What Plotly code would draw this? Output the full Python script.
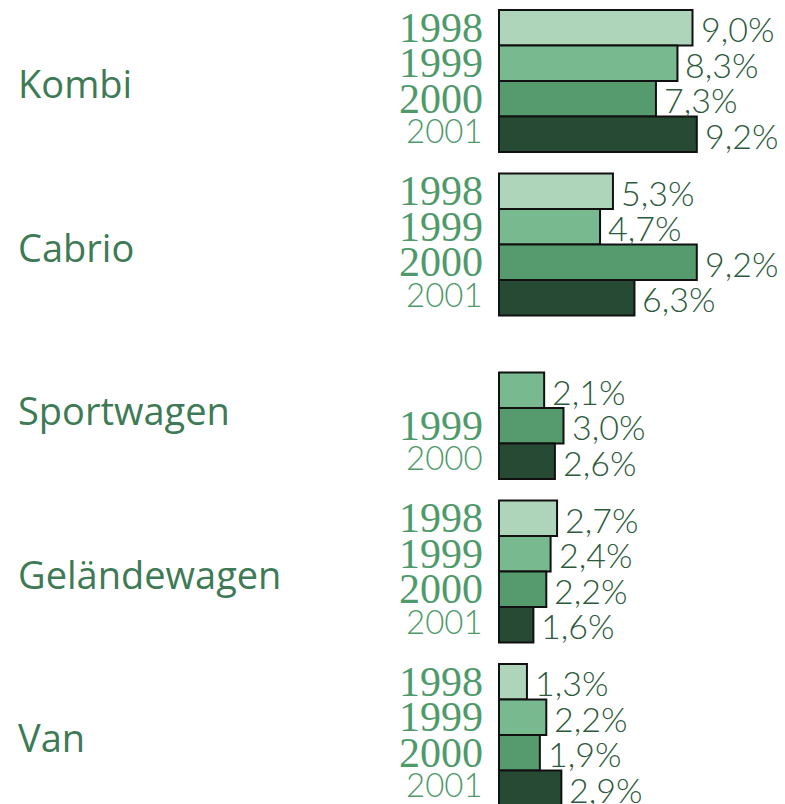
import plotly.graph_objects as go

# ---------------- data ----------------
categories = ["Kombi", "Cabrio", "Sportwagen", "Geländewagen", "Van"]
years = ["1998", "1999", "2000", "2001"]

share_1998 = [9.0, 5.3, None, 2.7, 1.3]
share_1999 = [8.3, 4.7, 2.1, 2.4, 2.2]
share_2000 = [7.3, 9.2, 3.0, 2.2, 1.9]
share_2001 = [9.2, 6.3, 2.6, 1.6, 2.9]

# tick labels shown to the left of each bar slot (as printed in the original)
year_labels_kombi = ["1998", "1999", "2000", "2001"]
year_labels_cabrio = ["1998", "1999", "2000", "2001"]
year_labels_sportwagen = ["", "", "1999", "2000"]
year_labels_gelaende = ["1998", "1999", "2000", "2001"]
year_labels_van = ["1998", "1999", "2000", "2001"]

# ---------------- styling ----------------
bar_colors = ["#aed5ba", "#78b98f", "#559b6d", "#264a33"]
label_green = "#4f9a6b"
cat_green = "#3d7a55"
pct_green = "#2d5a3c"

# the page body has an 8px margin, so the figure is drawn 8px in from the corner
OFF = 8
W, H = 785 - OFF, 804 - OFF
SLOT_PX = 35.5
GROUP_PITCH = 163.5 / SLOT_PX          # in slot units
TOP_PX = 10 - OFF
ZERO_PX = 499 - OFF
PX_PER_PCT = 21.5

y_top = -0.5 - TOP_PX / SLOT_PX
y_bottom = y_top + H / SLOT_PX
x_left = -ZERO_PX / PX_PER_PCT
x_right = (W - ZERO_PX) / PX_PER_PCT

series = [share_1998, share_1999, share_2000, share_2001]
year_label_rows = [year_labels_kombi, year_labels_cabrio, year_labels_sportwagen,
                   year_labels_gelaende, year_labels_van]


def ypos(ci, k):
    return ci * GROUP_PITCH + k


fig = go.Figure()
annotations = []

for k, (yr, vals) in enumerate(zip(years, series)):
    xs, ys = [], []
    for ci, v in enumerate(vals):
        if v is None:
            continue
        xs.append(v)
        ys.append(ypos(ci, k))
        annotations.append(dict(
            x=v, y=ypos(ci, k), xref="x", yref="y",
            text=f"{v:.1f}%".replace(".", ","),
            showarrow=False, xanchor="left", yanchor="middle",
            xshift=6, yshift=-1,
            font=dict(family="Lato", size=34, color=pct_green, weight=300),
        ))
    fig.add_trace(go.Bar(
        x=xs, y=ys, orientation="h", width=1.0, name=yr,
        marker=dict(color=bar_colors[k], line=dict(color="#111111", width=2)),
        showlegend=False, hoverinfo="skip",
    ))

# year labels to the left of bars
for ci, row in enumerate(year_label_rows):
    for k, lab in enumerate(row):
        if not lab:
            continue
        if k < 3:
            font = dict(family="Liberation Serif", size=42, color=label_green)
            ys = 0
        else:
            font = dict(family="Lato", size=33, color=label_green, weight=300)
            ys = 4
        annotations.append(dict(
            x=0, y=ypos(ci, k), xref="x", yref="y", text=lab,
            showarrow=False, xanchor="right", yanchor="middle",
            xshift=-14, yshift=ys, font=font,
        ))

# category labels
for ci, cat in enumerate(categories):
    annotations.append(dict(
        x=(16 - OFF) / W, y=ypos(ci, 1.5), xref="paper", yref="y", text=cat,
        showarrow=False, xanchor="left", yanchor="middle", yshift=-2,
        font=dict(family="Open Sans", size=38, color=cat_green),
    ))

fig.update_layout(
    width=W, height=H,
    margin=dict(l=0, r=0, t=0, b=0),
    paper_bgcolor="white", plot_bgcolor="white",
    barmode="overlay",
    xaxis=dict(range=[x_left, x_right], visible=False, fixedrange=True),
    yaxis=dict(range=[y_bottom, y_top], visible=False, fixedrange=True),
    annotations=annotations,
)

fig.write_html("out.html")
